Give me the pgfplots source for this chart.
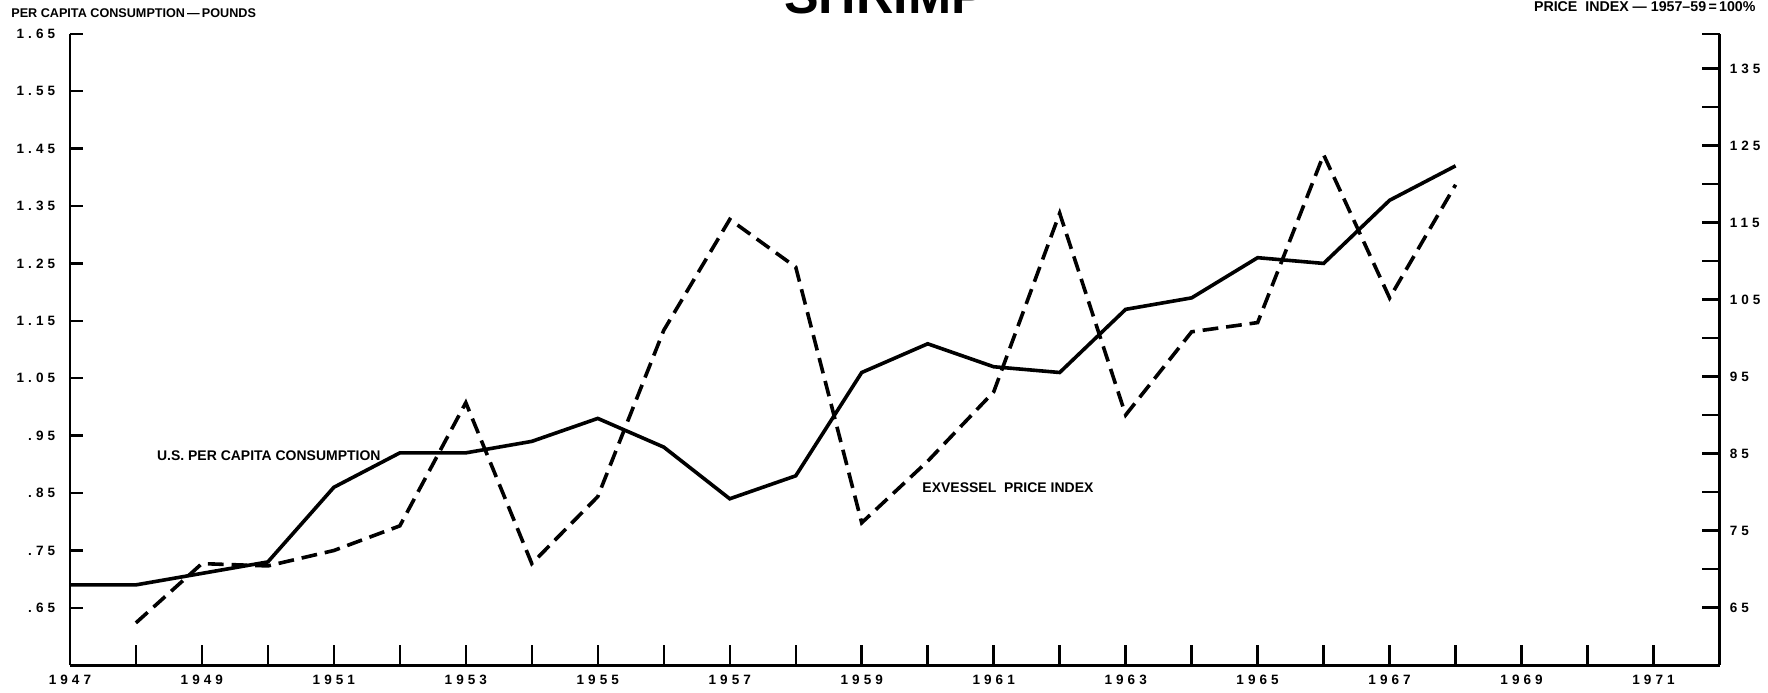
\documentclass[border=0pt]{standalone}
\usepackage{fontspec}
\setmainfont{Liberation Sans}
\newfontfamily\spaced[LetterSpace=30]{Liberation Sans}
\usepackage{pgfplots}
\usepackage{pgfplotstable}
\pgfplotsset{compat=1.18}

\pgfplotstableread{
year cons
1947 0.69
1948 0.69
1949 0.71
1950 0.73
1951 0.86
1952 0.92
1953 0.92
1954 0.94
1955 0.98
1956 0.93
1957 0.84
1958 0.88
1959 1.06
1960 1.11
1961 1.07
1962 1.06
1963 1.17
1964 1.19
1965 1.26
1966 1.25
1967 1.36
1968 1.42
}\constable

\pgfplotstableread{
year price
1948 63.0
1949 70.7
1950 70.4
1951 72.4
1952 75.6
1953 91.6
1954 70.7
1955 79.4
1956 101.0
1957 115.4
1958 109.2
1959 76.0
1960 84.0
1961 93.0
1962 116.2
1963 90.0
1964 100.8
1965 102.0
1966 123.8
1967 105.2
1968 119.9
}\pricetable

\begin{document}
\begin{tikzpicture}
\pgfplotsset{
  common/.style={
    at={(0,0)}, anchor=south west,
    scale only axis, width=731.5pt, height=280pt,
    xmin=1947, xmax=1972,
    axis line style={line width=1.2pt, -},
    every tick/.style={line width=1.1pt, black},
    tick align=inside,
    clip=false,
    /pgf/number format/assume math mode=true,
  },
  tlab/.style={font=\spaced\bfseries\fontsize{6}{7}\selectfont},
}
% left axis: consumption
\begin{axis}[common,
  ymin=0.55, ymax=1.65,
  axis y line*=left, axis x line*=bottom,
  xtick=\empty,
  ytick={0.65,0.75,0.85,0.95,1.05,1.15,1.25,1.35,1.45,1.55,1.65},
  yticklabels={.65,.75,.85,.95,1.05,1.15,1.25,1.35,1.45,1.55,1.65},
  major tick length=6pt,
  yticklabel style={tlab, xshift=-3pt},
]
\addplot[black, line width=1.6pt] table[x=year, y=cons] {\constable};
\node[anchor=west, font=\bfseries\fontsize{6.2}{7}\selectfont] at (axis cs:1948.2,0.915) {U.S. PER CAPITA CONSUMPTION};
\node[anchor=west, font=\bfseries\fontsize{6.2}{7}\selectfont] at (axis cs:1959.8,0.86) {EXVESSEL\ \ PRICE INDEX};
\end{axis}
% right axis: price index
\begin{axis}[common,
  ymin=57.5, ymax=139.5,
  axis y line*=right, axis x line=none,
  ytick={65,75,85,95,105,115,125,135},
  yticklabels={65,75,85,95,105,115,125,135},
  minor ytick={70,80,90,100,110,120,130,139.5},
  major tick length=8pt, minor tick length=8pt,
  yticklabel style={tlab, xshift=1pt},
]
\addplot[black, line width=1.6pt, dash pattern=on 7pt off 3.5pt] table[x=year, y=price] {\pricetable};
\end{axis}
% x axis ticks
\begin{axis}[common,
  ymin=0, ymax=1,
  axis x line*=bottom, axis y line=none,
  xtick={1947,1949,...,1971},
  xticklabels={1947,1949,1951,1953,1955,1957,1959,1961,1963,1965,1967,1969,1971},
  minor xtick={1948,1950,...,1970},
  major tick length=9pt, minor tick length=9pt,
  xticklabel style={tlab, yshift=-1pt},
]
\end{axis}
\node[anchor=west, font=\bfseries\fontsize{5.6}{6}\selectfont] at (-29.5pt,289pt) {PER CAPITA CONSUMPTION\,—\,POUNDS};
\node[anchor=east, font=\bfseries\fontsize{6.3}{6.5}\selectfont] at (751pt,292pt) {PRICE\ \ INDEX\ —\ 1957–59\,=\,100\%};
\node[anchor=base, font=\bfseries\fontsize{23}{23}\selectfont] at (361.5pt,289pt) {SHRIMP};
\pgfresetboundingbox
\useasboundingbox (-31pt,-12pt) rectangle (753pt,295pt);
\end{tikzpicture}
\end{document}
